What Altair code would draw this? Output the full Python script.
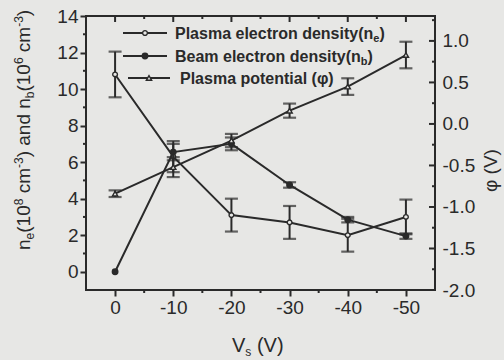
import altair as alt
import pandas as pd

# ---------------- data ----------------
Vs = [0, -10, -20, -30, -40, -50]
ne = [10.8, 6.3, 3.1, 2.7, 2.0, 3.0]
ne_err = [1.25, 0.85, 0.9, 0.9, 0.9, 0.95]
nb = [0.0, 6.55, 7.0, 4.75, 2.85, 1.95]
nb_err = [0.0, 0.45, 0.35, 0.15, 0.15, 0.15]
phi = [-0.84, -0.52, -0.2, 0.16, 0.45, 0.83]
phi_err = [0.04, 0.12, 0.08, 0.085, 0.1, 0.16]

x_ticks = [0, -10, -20, -30, -40, -50]
x_minor = [-5, -15, -25, -35, -45]
left_ticks = [0, 2, 4, 6, 8, 10, 12, 14]
left_minor = [1, 3, 5, 7, 9, 11, 13]
right_ticks = [-2.0, -1.5, -1.0, -0.5, 0.0, 0.5, 1.0]
right_minor = [-1.75, -1.25, -0.75, -0.25, 0.25, 0.75, 1.25]

legend_ne = ["Plasma electron density(n", "e", ")"]
legend_nb = ["Beam electron density(n", "b", ")"]
legend_phi = "Plasma potential (φ)"

# ---------------- style ----------------
W, H = 349, 274
INK = "#2a2a2a"
BG = "#e7e7e5"
FONT = "Liberation Sans"

REG = {' ': 278, '(': 333, ')': 333, '-': 333, 'V': 667, 'c': 500, 'm': 833,
       's': 500, 'a': 556, 'n': 556, 'd': 556, 'e': 556, 'b': 556}
BOLD = {' ': 278, '(': 333, ')': 333, 'B': 722, 'P': 667, 'a': 556, 'b': 611,
        'c': 556, 'd': 611, 'e': 556, 'i': 278, 'l': 278, 'm': 889, 'n': 611,
        'o': 611, 'r': 389, 's': 556, 't': 333, 'y': 556}


def tw(s, size, bold=False):
    t = BOLD if bold else REG
    return sum(t.get(c, 556) for c in s) * size / 1000.0


dummy = pd.DataFrame({"k": [0]})


def txt(s, x, y, size, bold=False, angle=None, align="left", baseline="alphabetic"):
    kw = dict(text=s, font=FONT, fontSize=size, color=INK, align=align, baseline=baseline,
              fontWeight="bold" if bold else "normal")
    if angle is not None:
        kw["angle"] = angle
    return alt.Chart(dummy).mark_text(**kw).encode(x=alt.value(x), y=alt.value(y))


def minus_fix(fmt):
    return "replace(format(datum.value, '%s'), '\u2212', '-')" % fmt


xs = alt.Scale(domain=[5, -55], nice=False, zero=False)
xaxis = alt.Axis(values=x_ticks, title=None, grid=False, tickSize=6, tickWidth=2,
                 tickColor=INK, domain=False, labelFont=FONT, labelFontSize=19,
                 labelColor=INK, labelPadding=2, labelExpr=minus_fix("d"))
ysL = alt.Scale(domain=[-1, 14], nice=False, zero=False)
yaxisL = alt.Axis(values=left_ticks, title=None, grid=False, tickSize=6, tickWidth=2,
                  tickColor=INK, domain=False, labelFont=FONT, labelFontSize=19,
                  labelColor=INK, labelPadding=2, labelExpr=minus_fix("d"))
ysR = alt.Scale(domain=[-2, 1.3], nice=False, zero=False)
yaxisR = alt.Axis(orient="right", values=right_ticks, title=None, grid=False, ticks=False,
                  domain=False, labelFont=FONT, labelFontSize=19, labelColor=INK,
                  labelPadding=7, labelExpr=minus_fix(".1f"))

X = alt.X("Vs:Q", scale=xs, axis=xaxis)


def series_layers(vals, errs, yscale, yaxis, shape, fill, size):
    df = pd.DataFrame({"Vs": Vs, "val": vals, "err": errs})
    df["lo"] = df["val"] - df["err"]
    df["hi"] = df["val"] + df["err"]
    dfe = df[df["err"] > 0]
    Y = lambda f: alt.Y(f + ":Q", scale=yscale, axis=yaxis)
    bars = alt.Chart(dfe).mark_rule(color=INK, strokeWidth=2).encode(x=X, y=Y("lo"), y2="hi:Q")
    cap_lo = alt.Chart(dfe).mark_tick(orient="horizontal", color=INK, size=13, thickness=2.2).encode(x=X, y=Y("lo"))
    cap_hi = alt.Chart(dfe).mark_tick(orient="horizontal", color=INK, size=13, thickness=2.2).encode(x=X, y=Y("hi"))
    line = alt.Chart(df).mark_line(color=INK, strokeWidth=2).encode(x=X, y=Y("val"))
    pts = alt.Chart(df).mark_point(shape=shape, filled=True, fill=fill, stroke=INK,
                                   strokeWidth=1.4, size=size, opacity=1).encode(x=X, y=Y("val"))
    return [bars, cap_lo, cap_hi, line, pts]


# left-axis tick decorations
Ylv = alt.Y("val:Q", scale=ysL, axis=yaxisL)
left_minor_r = alt.Chart(pd.DataFrame({"val": left_minor})).mark_rule(color=INK, strokeWidth=2).encode(
    y=Ylv, x=alt.value(-3), x2=alt.value(0))
bottom_minor_r = alt.Chart(pd.DataFrame({"Vs": x_minor})).mark_rule(color=INK, strokeWidth=2).encode(
    x=X, y=alt.value(H), y2=alt.value(H + 3))
top_major_r = alt.Chart(pd.DataFrame({"Vs": x_ticks})).mark_rule(color=INK, strokeWidth=2).encode(
    x=X, y=alt.value(0), y2=alt.value(6))
top_minor_r = alt.Chart(pd.DataFrame({"Vs": x_minor})).mark_rule(color=INK, strokeWidth=2).encode(
    x=X, y=alt.value(0), y2=alt.value(3))

left = alt.layer(
    *series_layers(ne, ne_err, ysL, yaxisL, "circle", BG, 22),
    *series_layers(nb, nb_err, ysL, yaxisL, "circle", INK, 30),
    left_minor_r, bottom_minor_r, top_major_r, top_minor_r,
)

Yrv = alt.Y("val:Q", scale=ysR, axis=yaxisR)
right_major_r = alt.Chart(pd.DataFrame({"val": right_ticks})).mark_rule(color=INK, strokeWidth=2).encode(
    y=Yrv, x=alt.value(W - 6), x2=alt.value(W))
right_minor_r = alt.Chart(pd.DataFrame({"val": right_minor})).mark_rule(color=INK, strokeWidth=2).encode(
    y=Yrv, x=alt.value(W - 3), x2=alt.value(W))

right = alt.layer(
    *series_layers(phi, phi_err, ysR, yaxisR, "triangle-up", BG, 28),
    right_major_r, right_minor_r,
)

# ---------------- titles and legend (real text) ----------------
texts = []
SP19 = tw(" ", 19)
# left y title, rotated, read bottom to top: (text, size, baseline shift, gap before)
pieces = [("n", 19, 0, 0), ("e", 12, 4, 0), ("(10", 19, 0, 0), ("8", 12, -7, 0),
          ("cm", 19, 0, SP19), ("-3", 12, -7, 0), (") and n", 19, 0, 0), ("b", 12, 4, 0),
          ("(10", 19, 0, 0), ("6", 12, -7, 0), ("cm", 19, 0, SP19), ("-3", 12, -7, 0),
          (")", 19, 0, 0)]
ypos = 234
for s, fs, sh, gap in pieces:
    ypos -= gap
    texts.append(txt(s, -56 + sh, ypos, fs, angle=270))
    ypos -= tw(s, fs)

# x title
xpos = 146
for s, fs, sh, gap in [("V", 20, 0, 0), ("s", 12, 4, 0), ("(V)", 20, 0, tw(" ", 20))]:
    xpos += gap
    texts.append(txt(s, xpos, 336 + sh, fs))
    xpos += tw(s, fs)

# right title
texts.append(txt("φ (V)", 411, 176, 19, angle=270))

# legend
leg_rows = [(17, 37, 81, 89, "circle", BG, 22, legend_ne),
            (40, 37, 81, 89, "circle", INK, 30, legend_nb),
            (62, 42, 84, 94, "triangle-up", BG, 28, [legend_phi])]
for (ry, lx1, lx2, tx, shp, fill, sz, parts) in leg_rows:
    texts.append(alt.Chart(dummy).mark_rule(color=INK, strokeWidth=2).encode(
        x=alt.value(lx1), x2=alt.value(lx2), y=alt.value(ry)))
    texts.append(alt.Chart(dummy).mark_point(shape=shp, filled=True, fill=fill, stroke=INK,
                                              strokeWidth=1.4, size=sz, opacity=1).encode(
        x=alt.value((lx1 + lx2) / 2), y=alt.value(ry)))
    xp = tx
    for i, s in enumerate(parts):
        if i == 1:
            texts.append(txt(s, xp, ry + 9, 11, bold=True))
            xp += tw(s, 11, True)
        else:
            texts.append(txt(s, xp, ry + 6, 16, bold=True))
            xp += tw(s, 16, True)

chart = alt.layer(left, right, *texts).resolve_scale(y="independent").properties(
    width=W, height=H,
    padding={"left": 86, "top": 16, "right": 69, "bottom": 70},
    autosize=alt.AutoSizeParams(type="none"),
    background=BG,
).configure_view(stroke=INK, strokeWidth=2)

chart.save("out.html", embed_options={"renderer": "svg", "actions": False})
